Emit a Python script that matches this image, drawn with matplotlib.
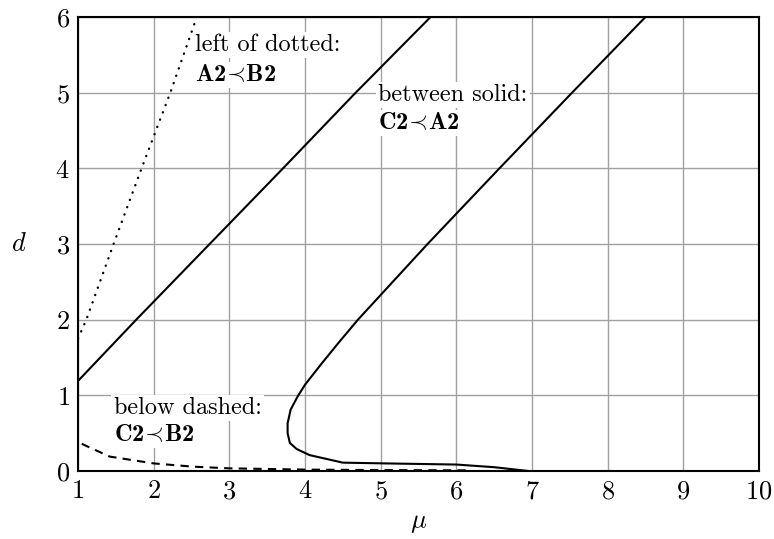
import matplotlib
matplotlib.use("Agg")
import matplotlib.pyplot as plt

plt.rcParams['font.family'] = 'serif'
plt.rcParams['font.serif'] = ['cmr10']
plt.rcParams['mathtext.fontset'] = 'custom'
plt.rcParams['mathtext.rm'] = 'cmr10'
plt.rcParams['mathtext.bf'] = 'cmb10'
plt.rcParams['mathtext.it'] = 'cmmi10'
plt.rcParams['mathtext.fallback'] = 'cm'
plt.rcParams['axes.formatter.use_mathtext'] = True

# dotted boundary: left of it A2 < B2
mu_dotted = [1.0, 1.11, 1.47, 1.84, 2.22, 2.57]
d_dotted = [1.75, 2.0, 3.0, 4.0, 5.0, 6.0]

# first solid line
mu_solid1 = [1.0, 1.77, 2.74, 3.71, 4.67, 5.66]
d_solid1 = [1.19, 2.0, 3.0, 4.0, 5.0, 6.0]

# second solid line (with the nose near mu ~ 3.8)
mu_solid2 = [8.50, 7.53, 6.57, 5.62, 4.70, 4.44, 4.22, 4.00, 3.90, 3.81,
             3.77, 3.77, 3.80, 3.89, 4.06, 4.50, 5.06, 6.0, 6.5, 6.95]
d_solid2 = [6.0, 5.0, 4.0, 3.0, 2.0, 1.69, 1.42, 1.14, 0.98, 0.81,
            0.63, 0.50, 0.37, 0.29, 0.21, 0.11, 0.10, 0.085, 0.05, 0.0]

# dashed boundary: below it C2 < B2
mu_dashed = [1.05, 1.09, 1.42, 2.0, 2.52, 3.0, 4.0, 5.0, 6.2]
d_dashed = [0.36, 0.34, 0.19, 0.10, 0.057, 0.035, 0.018, 0.012, 0.008]

x_ticks = list(range(1, 11))
y_ticks = list(range(0, 7))


def main():
    fig = plt.figure(figsize=(7.74, 5.39), dpi=100)
    ax = fig.add_axes([0.1008, 0.1262, 0.8798, 0.8423])

    ax.plot(mu_dotted, d_dotted, color='black', lw=1.7,
            linestyle=(0, (0.1, 3.2)), dash_capstyle='round')
    ax.plot(mu_solid1, d_solid1, color='black', lw=1.5)
    ax.plot(mu_solid2, d_solid2, color='black', lw=1.5)
    ax.plot(mu_dashed, d_dashed, color='black', lw=1.5, linestyle=(0, (4, 3)))

    ax.set_xlim(1, 10)
    ax.set_ylim(0, 6)
    ax.set_xticks(x_ticks)
    ax.set_yticks(y_ticks)
    ax.grid(True, color='#a0a0a0', lw=1.0)
    ax.set_axisbelow(True)
    ax.tick_params(length=0, labelsize=19, pad=6)
    for s in ax.spines.values():
        s.set_linewidth(1.5)

    ax.set_xlabel(r'$\mu$', fontsize=19, labelpad=6)
    ax.set_ylabel(r'$d$', fontsize=19, rotation=0, labelpad=26, va='center')

    box = dict(facecolor='white', edgecolor='none', pad=1.5)
    fs = 17.5
    ax.text(2.55, 5.63, 'left of dotted:', fontsize=fs, va='center', bbox=box)
    ax.text(2.55, 5.23, r'$\mathbf{A2}\!\prec\!\mathbf{B2}$', fontsize=fs, va='center', bbox=box)
    ax.text(4.97, 4.97, 'between solid:', fontsize=fs, va='center', bbox=box)
    ax.text(4.97, 4.60, r'$\mathbf{C2}\!\prec\!\mathbf{A2}$', fontsize=fs, va='center', bbox=box)
    ax.text(1.47, 0.83, 'below dashed:', fontsize=fs, va='center', bbox=box)
    ax.text(1.47, 0.48, r'$\mathbf{C2}\!\prec\!\mathbf{B2}$', fontsize=fs, va='center', bbox=box)

    fig.savefig('out.png', dpi=100)


if __name__ == "__main__":
    main()
